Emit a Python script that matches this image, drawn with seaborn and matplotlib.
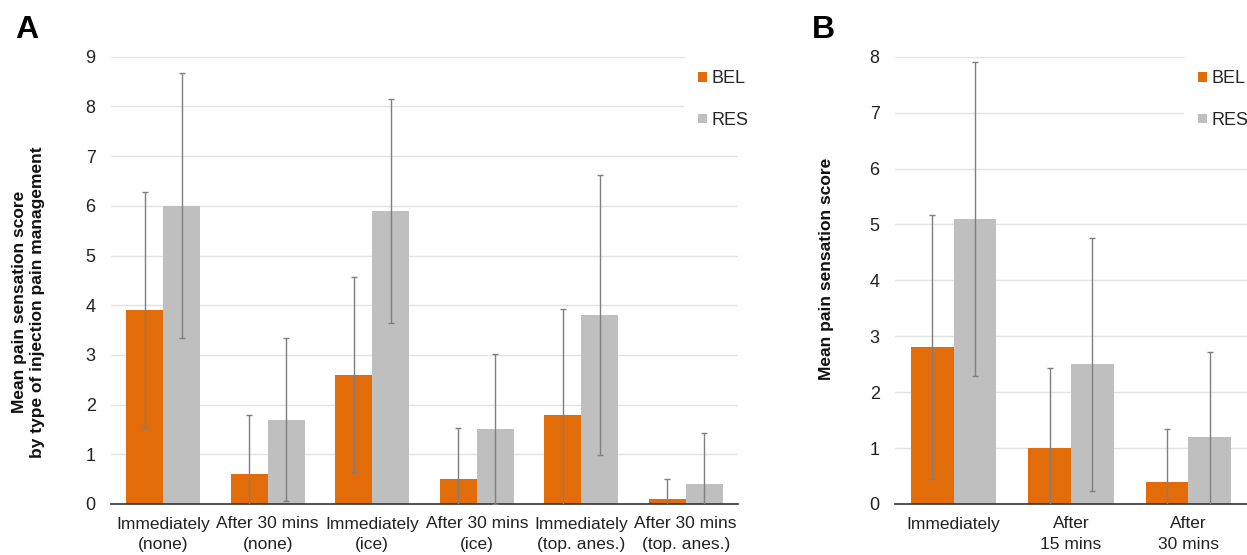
import numpy as np
import pandas as pd
import matplotlib
matplotlib.use("Agg")
import matplotlib.pyplot as plt
import seaborn as sns

# 데이터 (panel A)
cats_a = ["Immediately\n(none)", "After 30 mins\n(none)", "Immediately\n(ice)",
          "After 30 mins\n(ice)", "Immediately\n(top. anes.)", "After 30 mins\n(top. anes.)"]
bel_a = [3.9, 0.6, 2.6, 0.5, 1.8, 0.1]
res_a = [6.0, 1.7, 5.9, 1.5, 3.8, 0.4]
bel_a_err = [2.37, 1.19, 1.96, 1.02, 2.13, 0.41]
res_a_err = [2.67, 1.64, 2.25, 1.51, 2.81, 1.03]

# 데이터 (panel B)
cats_b = ["Immediately", "After\n15 mins", "After\n30 mins"]
bel_b = [2.8, 1.0, 0.4]
res_b = [5.1, 2.5, 1.2]
bel_b_err = [2.36, 1.43, 0.94]
res_b_err = [2.81, 2.26, 1.51]

groups = ["BEL", "RES"]
colors = {"BEL": "#e36c0a", "RES": "#bfbfbf"}

sns.set_theme(style="white")
plt.rcParams['font.family'] = ['Liberation Sans', 'DejaVu Sans']

fig = plt.figure(figsize=(12.47, 5.55), dpi=100)
ax_a = fig.add_axes([111/1247, 51/555, 627/1247, 447.3/555])
ax_b = fig.add_axes([895/1247, 51/555, 352/1247, 447.3/555])


def draw(ax, cats, bel, res, bel_err, res_err, ymax, width, ylabel, lab_xy, leg_x):
    df = pd.DataFrame({
        "cat": cats * 2,
        "grp": ["BEL"] * len(cats) + ["RES"] * len(cats),
        "val": bel + res,
    })
    sns.barplot(data=df, x="cat", y="val", hue="grp", palette=colors, order=cats,
                hue_order=groups, width=width, errorbar=None, linewidth=0,
                saturation=1, ax=ax)
    # 오차막대
    for cont, err in zip(ax.containers, [bel_err, res_err]):
        xs = [p.get_x() + p.get_width() / 2 for p in cont.patches]
        hs = [p.get_height() for p in cont.patches]
        ax.errorbar(xs, hs, yerr=err, fmt="none", ecolor="#7f7f7f", elinewidth=1,
                    capsize=2, capthick=1, zorder=3)
    ax.set_ylim(0, ymax)
    ax.set_xlim(-0.5, len(cats) - 0.5)
    ax.set_yticks(range(0, ymax + 1))
    ax.yaxis.grid(True, color="#e2e2e2", lw=1)
    ax.set_axisbelow(True)
    for s in ["left", "right", "top"]:
        ax.spines[s].set_visible(False)
    ax.spines["bottom"].set_color("#333333")
    ax.spines["bottom"].set_linewidth(1.2)
    ax.tick_params(axis="y", length=0, pad=11, labelsize=13, labelcolor="#222222")
    ax.tick_params(axis="x", length=0, pad=9, labelsize=12.5, labelcolor="#222222")
    plt.setp(ax.get_xticklabels(), linespacing=1.45)
    ax.set_xlabel("")
    ax.set_ylabel(ylabel, fontsize=12.5, fontweight="bold", color="#111111", linespacing=1.25)
    ax.yaxis.set_label_coords(*lab_xy)
    leg = ax.legend(loc="upper left", frameon=True, fontsize=13,
                    handlelength=0.45, handleheight=0.45, handletextpad=0.3,
                    labelspacing=1.35, borderpad=0.8, borderaxespad=0)
    leg.set_bbox_to_anchor((leg_x, 1 - 56/555), transform=fig.transFigure)
    leg.get_frame().set_facecolor("white")
    leg.get_frame().set_edgecolor("none")
    leg.get_frame().set_alpha(1)
    leg.set_zorder(5)


draw(ax_a, cats_a, bel_a, res_a, bel_a_err, res_a_err, 9, 0.71,
     "Mean pain sensation score\nby type of injection pain management",
     (-0.105, 0.452), 684/1247)
draw(ax_b, cats_b, bel_b, res_b, bel_b_err, res_b_err, 8, 0.73,
     "Mean pain sensation score", (-0.174, 0.526), 1184/1247)

fig.text(15/1247, 1 - 38/555, "A", fontsize=23, fontweight="bold", color="black")
fig.text(812/1247, 1 - 38/555, "B", fontsize=23, fontweight="bold", color="black")

fig.savefig("out.png", dpi=100, facecolor="white")
